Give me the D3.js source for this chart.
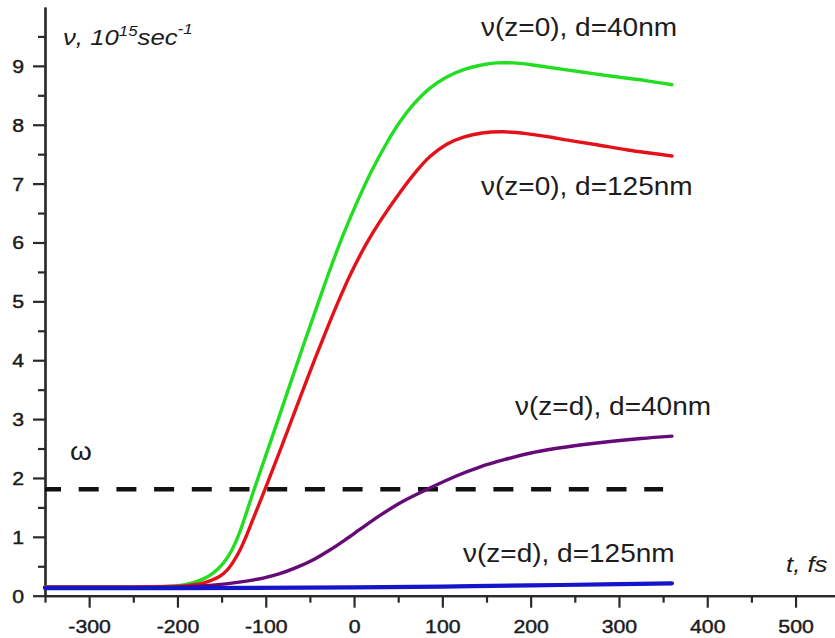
<!DOCTYPE html>
<html>
<head>
<meta charset="utf-8">
<script src="https://cdn.jsdelivr.net/npm/d3@7/dist/d3.min.js"></script>
<style>
  html, body { margin: 0; padding: 0; background: #fff; }
  svg { display: block; }
  text { font-family: "Liberation Sans", Arial, sans-serif; fill: #1c1c1c; }
</style>
</head>
<body>
<svg id="chart" width="835" height="638"></svg>
<script>
// Collision frequency ν(t) at the surface (z=0) and at the rear side (z=d) of films of two thicknesses
const nuZ0d40 = [
  [-350,0.15],[-250,0.15],[-210,0.16],[-195,0.18],[-182,0.22],[-170,0.29],[-160,0.38],[-150,0.52],
  [-142,0.68],[-135,0.88],[-128,1.14],[-121,1.45],[-114,1.77],[-100,2.38],[-84,3.08],[-70,3.7],
  [-54,4.4],[-40,5.0],[-27,5.55],[-12,6.14],[5,6.74],[20,7.22],[37,7.69],[52,8.05],[67,8.34],
  [85,8.61],[105,8.81],[125,8.94],[143,9.01],[162,9.05],[180,9.05],[200,9.02],[218,8.98],
  [256,8.9],[294,8.82],[330,8.75],[360,8.68]
];
const nuZ0d125 = [
  [-350,0.15],[-250,0.15],[-200,0.16],[-185,0.18],[-172,0.21],[-162,0.26],[-152,0.33],[-144,0.43],
  [-137,0.57],[-130,0.75],[-123,0.98],[-116,1.24],[-108,1.54],[-101,1.8],[-85,2.42],[-65,3.21],
  [-48,3.88],[-31,4.52],[-18,4.99],[-4,5.46],[14,5.98],[29,6.35],[52,6.85],[70,7.2],[86,7.46],
  [105,7.67],[124,7.79],[145,7.86],[169,7.88],[195,7.85],[218,7.8],[245,7.73],[275,7.66],
  [310,7.57],[360,7.47]
];
const nuZdD40 = [
  [-350,0.14],[-250,0.14],[-200,0.15],[-160,0.18],[-130,0.23],[-103,0.3],[-85,0.37],[-65,0.48],
  [-45,0.62],[-27,0.78],[-10,0.95],[7,1.13],[29,1.36],[55,1.6],[86,1.83],[115,2.03],[143,2.19],
  [170,2.31],[199,2.42],[228,2.5],[256,2.56],[290,2.62],[325,2.67],[360,2.71]
];
const nuZdD125 = [
  [-350,0.13],[-200,0.13],[0,0.14],[100,0.155],[200,0.175],[300,0.195],[360,0.21]
];
// Laser frequency ω
const omega = 1.81;
const omegaSpan = [-350, 350];

const xTicksMajor = [-300,-200,-100,0,100,200,300,400,500];
const xTicksMinor = [-350,-250,-150,-50,50,150,250,350,450,550];
const yTicksMajor = [0,1,2,3,4,5,6,7,8,9];
const yTicksMinor = [0.5,1.5,2.5,3.5,4.5,5.5,6.5,7.5,8.5,9.5];

const seriesLabels = [
  {text: "ν(z=0), d=40nm",  x: 481, y: 36},
  {text: "ν(z=0), d=125nm", x: 481, y: 195},
  {text: "ν(z=d), d=40nm",  x: 515, y: 415},
  {text: "ν(z=d), d=125nm", x: 463, y: 562}
];

const svg = d3.select("#chart");
const SX = 1.12; // horizontal stretch of the lettering

const x = d3.scaleLinear().domain([-350, 550]).range([45, 839.7]);
const y = d3.scaleLinear().domain([0, 10]).range([595.7, 7]);

// axes
const axisColor = "#2a2a2a";
function styleAxis(g) {
  g.select(".domain").attr("stroke", axisColor).attr("stroke-width", 2.2);
  g.selectAll(".tick line").attr("stroke", axisColor).attr("stroke-width", 2.2);
}

const gxMinor = svg.append("g").attr("transform", `translate(0,${y(0)})`)
  .call(d3.axisBottom(x).tickValues(xTicksMinor).tickSize(7).tickSizeOuter(0).tickFormat(""));
styleAxis(gxMinor);
const gx = svg.append("g").attr("transform", `translate(0,${y(0)})`)
  .call(d3.axisBottom(x).tickValues(xTicksMajor).tickSize(12).tickSizeOuter(0).tickFormat(d3.format("d")));
styleAxis(gx);
gx.selectAll(".tick text")
  .attr("y", 24).attr("dy", "0.71em")
  .attr("font-size", 19).attr("fill", "#1c1c1c")
  .attr("stroke", "#1c1c1c").attr("stroke-width", 0.45)
  .attr("transform", `scale(${SX},1)`)
  .text(d => d < 0 ? "-" + Math.abs(d) : d);

const gyMinor = svg.append("g").attr("transform", `translate(${x(-350)},0)`)
  .call(d3.axisLeft(y).tickValues(yTicksMinor).tickSize(7).tickSizeOuter(0).tickFormat(""));
styleAxis(gyMinor);
const gy = svg.append("g").attr("transform", `translate(${x(-350)},0)`)
  .call(d3.axisLeft(y).tickValues(yTicksMajor).tickSize(12).tickSizeOuter(0).tickFormat(d3.format("d")));
styleAxis(gy);
gy.selectAll(".tick text")
  .attr("x", -21 / SX).attr("dy", "0.34em")
  .attr("font-size", 19).attr("fill", "#1c1c1c")
  .attr("stroke", "#1c1c1c").attr("stroke-width", 0.45)
  .attr("transform", `scale(${SX},1)`);

// ω level
svg.append("line")
  .attr("x1", x(omegaSpan[0])).attr("x2", x(omegaSpan[1]))
  .attr("y1", y(omega)).attr("y2", y(omega))
  .attr("stroke", "#111").attr("stroke-width", 4.5)
  .attr("stroke-dasharray", "20,17.7").attr("stroke-dashoffset", 4);

// curves
const line = d3.line().x(d => x(d[0])).y(d => y(d[1])).curve(d3.curveCatmullRom.alpha(0.5));
const series = [
  {data: nuZ0d40,  color: "#22dd22", w: 3.4},
  {data: nuZ0d125, color: "#e3121a", w: 3.4},
  {data: nuZdD40,  color: "#660a78", w: 3.4},
  {data: nuZdD125, color: "#1414c8", w: 4.2}
];
svg.append("g").selectAll("path").data(series).join("path")
  .attr("d", d => line(d.data))
  .attr("fill", "none")
  .attr("stroke", d => d.color)
  .attr("stroke-width", d => d.w)
  .attr("stroke-linecap", "round");

// labels
function stretchedText(px, py, size, style) {
  return svg.append("text")
    .attr("transform", `translate(${px},${py}) scale(${SX},1)`)
    .attr("font-size", size)
    .attr("font-style", style || "normal");
}

seriesLabels.forEach(l => stretchedText(l.x, l.y, 25).text(l.text));

stretchedText(70, 460, 25).text("ω");

const yl = stretchedText(63, 45, 23, "italic");
yl.append("tspan").text("ν, 10");
yl.append("tspan").attr("font-size", 15).attr("dy", -9).text("15");
yl.append("tspan").attr("dy", 9).text("sec");
yl.append("tspan").attr("font-size", 15).attr("dy", -11).text("-1");

stretchedText(786, 572, 23, "italic").text("t, fs");
</script>
</body>
</html>
